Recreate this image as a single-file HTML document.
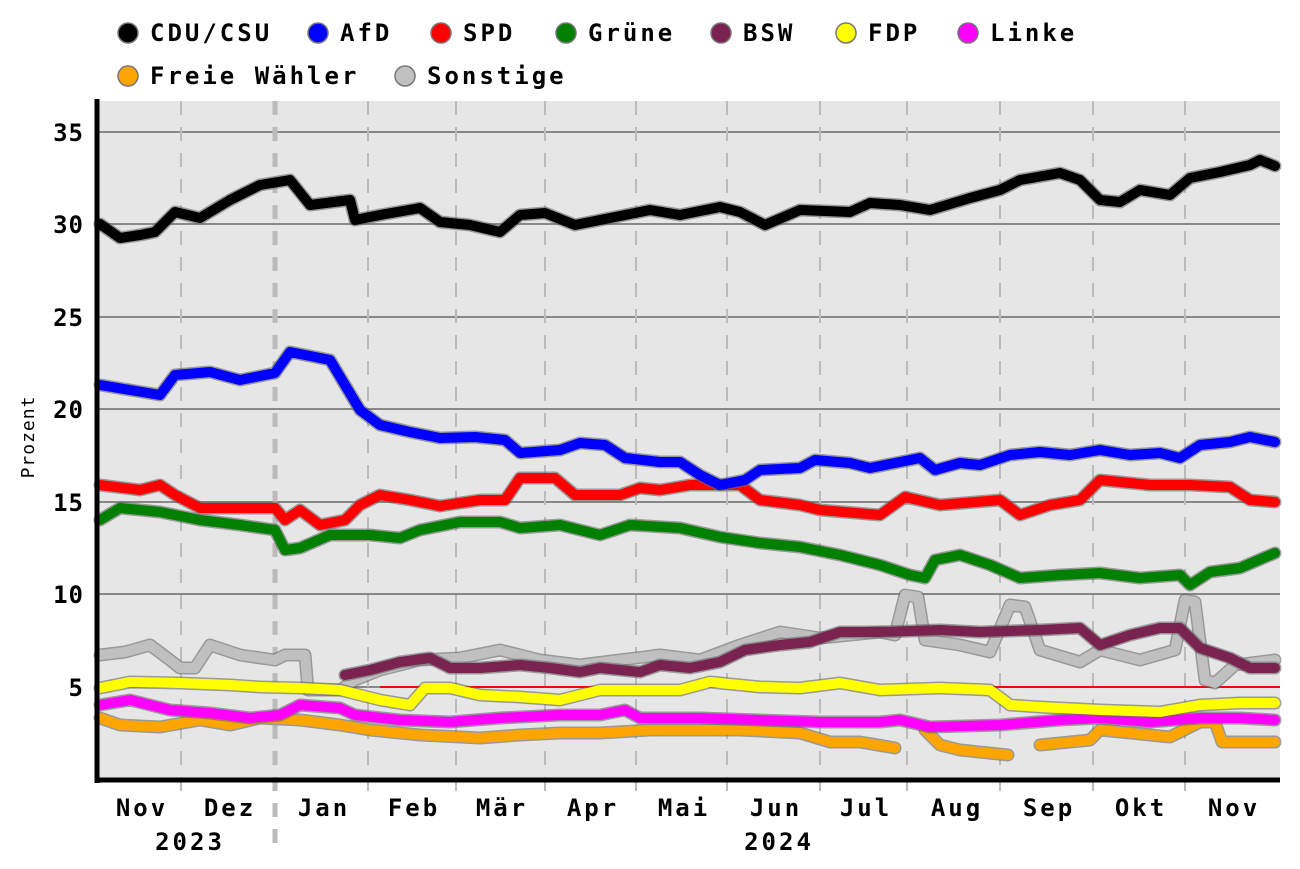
<!DOCTYPE html><html><head><meta charset="utf-8"><style>body{margin:0;background:#fff}svg{display:block}text{font-family:"DejaVu Sans Mono","Liberation Mono",monospace;font-weight:bold}</style></head><body>
<svg id="s" width="1300" height="869" xmlns="http://www.w3.org/2000/svg">
<rect x="97" y="101" width="1183" height="679" fill="#e6e6e6"/>
<g stroke="#888" stroke-width="2"><line x1="97" x2="1280" y1="132" y2="132"/><line x1="97" x2="1280" y1="224" y2="224"/><line x1="97" x2="1280" y1="317" y2="317"/><line x1="97" x2="1280" y1="409" y2="409"/><line x1="97" x2="1280" y1="502" y2="502"/><line x1="97" x2="1280" y1="594" y2="594"/><line x1="97" x2="1280" y1="687" y2="687"/></g>
<g id="mv" stroke="#bbb" stroke-width="2" stroke-dasharray="14,12"></g>
<line x1="275" x2="275" y1="101" y2="855" stroke="#bbb" stroke-width="5" stroke-dasharray="14,12"/>
<line x1="380" x2="1280" y1="687" y2="687" stroke="#f00" stroke-width="2"/>
<g id="ln" fill="none" stroke-linejoin="round" stroke-linecap="round"></g>
<line x1="97" x2="97" y1="99" y2="783" stroke="#000" stroke-width="5"/>
<line x1="95" x2="1280" y1="780" y2="780" stroke="#000" stroke-width="5"/>
<g font-size="24" text-anchor="end" letter-spacing="1"><text x="84" y="141">35</text><text x="84" y="233">30</text><text x="84" y="326">25</text><text x="84" y="418">20</text><text x="84" y="511">15</text><text x="84" y="603">10</text><text x="84" y="696">5</text></g>
<text transform="translate(34,437) rotate(-90)" font-size="18" text-anchor="middle" style="font-weight:normal;letter-spacing:1px">Prozent</text>
<g font-size="24" text-anchor="middle" letter-spacing="3"><text x="142" y="816">Nov</text><text x="230" y="816">Dez</text><text x="324" y="816">Jan</text><text x="414" y="816">Feb</text><text x="502" y="816">Mär</text><text x="593" y="816">Apr</text><text x="684" y="816">Mai</text><text x="776" y="816">Jun</text><text x="866" y="816">Jul</text><text x="957" y="816">Aug</text><text x="1049" y="816">Sep</text><text x="1141" y="816">Okt</text><text x="1234" y="816">Nov</text><text x="190" y="850">2023</text><text x="779" y="850">2024</text></g>
<g font-size="24" id="lg" letter-spacing="3"></g>
</svg>
<script>
var ns="http://www.w3.org/2000/svg",s=document.getElementById('s');
function el(p,t,a){var e=document.createElementNS(ns,t);for(var k in a)e.setAttribute(k,a[k]);p.appendChild(e);return e}
var mv=document.getElementById('mv');[181,368,456,545,636,727,820,907,1000,1093,1185].forEach(function(x){el(mv,'line',{x1:x,x2:x,y1:101,y2:800})});
var D={
gray:["#c0c0c0",[[[100,655],[125,652],[150,645],[170,660],[180,668],[195,668],[210,645],[240,655],[275,660],[285,655],[305,655],[308,690],[340,690],[355,680],[380,670],[420,660],[460,658],[500,650],[540,660],[580,665],[620,660],[660,655],[700,660],[740,645],[780,632],[820,638],[880,632],[895,635],[905,595],[918,597],[925,640],[960,645],[990,652],[1010,605],[1025,607],[1040,650],[1080,662],[1100,650],[1140,660],[1175,650],[1185,600],[1195,602],[1205,680],[1215,683],[1235,665],[1275,660]]]],
fw:["#ffa500",[[[100,718],[120,725],[160,727],[200,720],[230,725],[260,718],[300,720],[340,725],[370,730],[420,735],[480,738],[520,735],[560,733],[600,733],[650,730],[700,730],[740,730],[800,733],[830,742],[860,742],[895,748]],[[925,730],[940,745],[960,750],[1008,755]],[[1040,745],[1090,740],[1100,730],[1170,737],[1200,722],[1215,722],[1222,742],[1275,742]]]],
li:["#ff00ff",[[[100,705],[130,700],[170,710],[210,713],[250,718],[280,715],[300,705],[340,708],[355,715],[400,720],[450,722],[500,718],[560,715],[600,715],[625,710],[640,718],[700,718],[760,720],[820,722],[880,722],[900,720],[930,727],[1000,725],[1060,720],[1100,718],[1150,722],[1200,718],[1240,718],[1275,720]]]],
fdp:["#ffff00",[[[100,688],[130,682],[180,683],[230,685],[260,687],[300,688],[340,690],[380,700],[410,705],[425,688],[450,688],[480,695],[520,697],[560,700],[600,690],[650,690],[680,690],[710,682],[760,687],[800,688],[840,683],[880,690],[940,688],[990,690],[1010,705],[1040,707],[1100,710],[1160,712],[1200,705],[1240,703],[1275,703]]]],
bsw:["#7a2350",[[[345,675],[370,670],[400,662],[430,658],[450,668],[480,668],[520,665],[550,668],[580,672],[600,668],[640,672],[660,665],[690,668],[720,662],[745,650],[780,645],[810,642],[840,632],[880,632],[940,630],[980,632],[1040,630],[1080,628],[1100,645],[1130,635],[1160,628],[1180,628],[1200,648],[1230,658],[1250,668],[1275,668]]]],
gr:["#008000",[[[100,520],[120,508],[160,512],[200,520],[240,525],[275,530],[285,550],[300,548],[330,535],[370,535],[400,538],[420,530],[460,522],[500,522],[520,528],[560,525],[600,535],[630,525],[680,528],[720,537],[760,543],[800,547],[840,555],[880,565],[910,575],[925,578],[935,560],[960,555],[990,565],[1020,578],[1060,575],[1100,573],[1140,578],[1180,575],[1190,585],[1210,572],[1240,568],[1275,553]]]],
spd:["#ff0000",[[[100,485],[140,490],[160,485],[175,495],[200,508],[240,508],[275,508],[285,520],[300,510],[320,525],[345,520],[360,505],[380,495],[410,500],[440,506],[480,500],[505,500],[520,478],[555,478],[575,495],[620,495],[640,488],[660,490],[690,485],[740,485],[760,500],[800,505],[820,510],[880,515],[905,497],[940,505],[1000,500],[1020,515],[1050,505],[1080,500],[1100,480],[1150,485],[1190,485],[1230,487],[1250,500],[1275,502]]]],
afd:["#0000ff",[[[100,385],[130,390],[160,395],[175,375],[210,372],[240,380],[275,373],[290,352],[310,356],[330,360],[345,385],[360,410],[380,425],[410,432],[440,438],[475,437],[505,440],[520,453],[560,450],[580,443],[605,445],[625,458],[660,462],[680,462],[700,475],[720,485],[745,480],[760,470],[800,468],[815,460],[850,463],[870,468],[920,458],[935,470],[960,463],[980,465],[1010,455],[1040,452],[1070,455],[1100,450],[1130,455],[1160,453],[1180,458],[1200,445],[1230,442],[1250,437],[1275,442]]]],
cdu:["#000000",[[[100,224],[120,238],[140,235],[155,232],[175,212],[200,218],[230,200],[260,185],[290,180],[310,205],[350,200],[355,220],[380,215],[420,208],[440,222],[470,225],[500,232],[520,215],[545,213],[575,225],[610,218],[650,210],[680,215],[720,207],[740,212],[765,225],[800,210],[850,212],[870,203],[900,205],[930,210],[970,198],[1000,190],[1020,180],[1060,173],[1080,180],[1100,200],[1120,202],[1140,190],[1170,195],[1190,178],[1220,172],[1250,165],[1260,160],[1275,166]]]]};
var ln=document.getElementById('ln');
for(var k in D){D[k][1].forEach(function(seg){var p=seg.map(function(q){return q.join(',')}).join(' ');el(ln,'polyline',{points:p,stroke:'#666','stroke-width':13,'stroke-opacity':0.6});el(ln,'polyline',{points:p,stroke:D[k][0],'stroke-width':10})})}
var lg=document.getElementById('lg');
[["CDU/CSU","#000",150,33],["AfD","#00f",340,33],["SPD","#f00",463,33],["Grüne","#008000",588,33],["BSW","#7a2350",743,33],["FDP","#ff0",868,33],["Linke","#f0f",990,33],["Freie Wähler","#ffa500",150,76],["Sonstige","#c0c0c0",427,76]].forEach(function(a){el(lg,'circle',{cx:a[2]-22,cy:a[3],r:10,fill:a[1],stroke:'#777','stroke-width':1.5});var t=el(lg,'text',{x:a[2],y:a[3]+8});t.textContent=a[0]});
</script></body></html>
